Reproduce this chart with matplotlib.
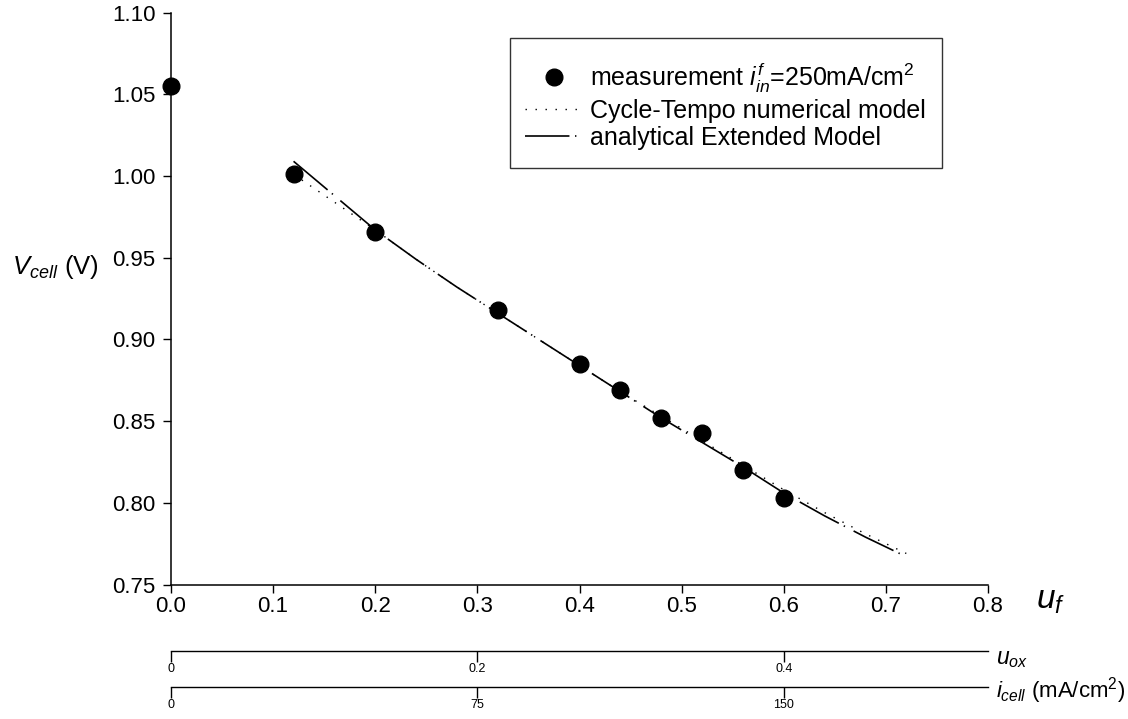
import matplotlib
matplotlib.use("Agg")
import matplotlib.pyplot as plt
from matplotlib.patches import Rectangle

plt.rcParams['font.family'] = ['Liberation Sans', 'DejaVu Sans']
plt.rcParams['mathtext.fontset'] = 'custom'
plt.rcParams['mathtext.rm'] = 'Liberation Sans'
plt.rcParams['mathtext.it'] = 'Liberation Sans:italic'
plt.rcParams['mathtext.bf'] = 'Liberation Sans:bold'
plt.rcParams['lines.scale_dashes'] = False

# Measured cell voltage against fuel utilisation (inlet current density 250 mA/cm2)
uf_meas = [0.0, 0.12, 0.20, 0.32, 0.40, 0.44, 0.48, 0.52, 0.56, 0.60]
v_meas = [1.055, 1.001, 0.966, 0.918, 0.885, 0.869, 0.852, 0.843, 0.820, 0.803]

# Model curves
uf_model = [0.12, 0.16, 0.20, 0.24, 0.28, 0.32, 0.36, 0.40,
            0.44, 0.48, 0.52, 0.56, 0.60, 0.64, 0.68, 0.72]
v_cycle_tempo = [1.001, 0.984, 0.967, 0.949, 0.932, 0.916, 0.900, 0.884,
                 0.868, 0.853, 0.838, 0.823, 0.808, 0.794, 0.781, 0.769]
v_extended = [1.009, 0.988, 0.967, 0.949, 0.932, 0.916, 0.900, 0.884,
              0.868, 0.852, 0.837, 0.822, 0.806, 0.792, 0.779, 0.767]

# Axis ticks
uf_ticks = [0.0, 0.1, 0.2, 0.3, 0.4, 0.5, 0.6, 0.7, 0.8]
v_ticks = [0.75, 0.80, 0.85, 0.90, 0.95, 1.00, 1.05, 1.10]
uox_ticks = [0, 0.2, 0.4]
uox_tick_labels = ['0', '0.2', '0.4']
icell_ticks = [0, 75, 150]
icell_tick_labels = ['0', '75', '150']

# Conversion of the fuel-utilisation scale to the secondary scales
uox_per_uf = 2.0 / 3.0
icell_per_uf = 250.0

W, H = 1128, 719
fig = plt.figure(figsize=(W / 100, H / 100), dpi=100)


def fx(px):
    return px / W


def fy(py):
    return 1 - py / H


x0, x1 = 171, 988
ax = fig.add_axes([fx(x0), fy(584.5), fx(x1) - fx(x0), fy(12.6) - fy(584.5)])

ax.plot(uf_model, v_cycle_tempo, color='black', lw=1.0,
        linestyle=(0, (1.0, 6.2)), label='Cycle-Tempo numerical model')
ax.plot(uf_model, v_extended, color='black', lw=1.2,
        linestyle=(0, (32, 4, 1, 7)), label='analytical Extended Model')
ax.plot(uf_meas, v_meas, linestyle='none', marker='o', ms=12,
        color='black', clip_on=False, zorder=5,
        label=r'measurement $i^{f}_{in}$=250mA/cm$^{2}$')

ax.set_xlim(uf_ticks[0], uf_ticks[-1])
ax.set_ylim(v_ticks[0], v_ticks[-1])
ax.set_xticks(uf_ticks)
ax.set_xticklabels([f'{t:.1f}' for t in uf_ticks])
ax.set_yticks(v_ticks)
ax.set_yticklabels([f'{t:.2f}' for t in v_ticks])
for side in ('top', 'right'):
    ax.spines[side].set_visible(False)
for side in ('left', 'bottom'):
    ax.spines[side].set_linewidth(1.1)
ax.tick_params(axis='both', direction='out', length=6, width=1.0,
               labelsize=16, colors='black')
ax.tick_params(axis='x', pad=2)
ax.tick_params(axis='y', pad=5)

# Legend: entries without frame, box drawn separately
handles, labels = ax.get_legend_handles_labels()
order = [2, 0, 1]
leg = fig.legend([handles[i] for i in order], [labels[i] for i in order],
                 loc='upper left', bbox_to_anchor=(fx(525), fy(61)),
                 bbox_transform=fig.transFigure, borderaxespad=0,
                 frameon=False, fontsize=18, numpoints=1,
                 handlelength=2.3, handletextpad=0.3, labelspacing=0.14,
                 borderpad=0)
fig.add_artist(Rectangle((fx(510), fy(168)), fx(942) - fx(510), fy(38) - fy(168),
                         transform=fig.transFigure, fill=False,
                         edgecolor='#333333', linewidth=1.0))

# Axis titles
fig.text(fx(12), fy(267), r'$V_{cell}$ (V)', fontsize=18.5, ha='left', va='center')
fig.text(fx(1036), fy(601), r'$u_f$', fontsize=24, ha='left', va='center')


def secondary_axis(ypx, xmax, ticks, labels):
    sax = fig.add_axes([fx(x0), fy(ypx), fx(x1) - fx(x0), 0.0001])
    sax.set_xlim(0, xmax)
    sax.set_yticks([])
    for side in ('top', 'right', 'left'):
        sax.spines[side].set_visible(False)
    sax.spines['bottom'].set_linewidth(1.0)
    sax.set_xticks(ticks)
    sax.set_xticklabels(labels)
    sax.tick_params(axis='x', direction='out', length=8, width=1.0,
                    labelsize=9, pad=1)
    sax.patch.set_visible(False)
    return sax


secondary_axis(651, uf_ticks[-1] * uox_per_uf, uox_ticks, uox_tick_labels)
secondary_axis(687, uf_ticks[-1] * icell_per_uf, icell_ticks, icell_tick_labels)

fig.text(fx(996), fy(658), r'$u_{ox}$', fontsize=16.5, ha='left', va='center')
fig.text(fx(996), fy(691), r'$i_{cell}$ (mA/cm$^2$)', fontsize=16,
         ha='left', va='center')

fig.savefig('out.png', dpi=100)
